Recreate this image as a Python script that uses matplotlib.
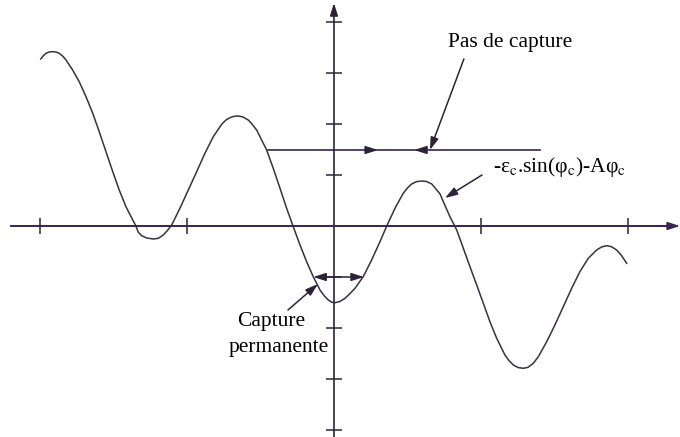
import matplotlib
matplotlib.use('Agg')
import matplotlib.pyplot as plt

plt.rcParams['font.family'] = ['Liberation Serif', 'DejaVu Serif']
plt.rcParams['mathtext.fontset'] = 'stix'

# curve (x in tick units, y in tick units)
phi = [-1.995, -1.977, -1.959, -1.937, -1.914, -1.891, -1.869, -1.846, -1.823, -1.778,
       -1.733, -1.687, -1.641, -1.597, -1.551, -1.505, -1.461, -1.415, -1.369, -1.347,
       -1.331, -1.308, -1.274, -1.229, -1.195, -1.161, -1.134, -1.104, -1.048, -0.991,
       -0.934, -0.878, -0.821, -0.764, -0.735, -0.707, -0.680, -0.651, -0.619, -0.583,
       -0.558, -0.526, -0.458, -0.413, -0.367, -0.322, -0.277, -0.231, -0.186, -0.141,
       -0.095, -0.068, -0.039, -0.014, 0.007, 0.041, 0.075, 0.109, 0.143, 0.199,
       0.256, 0.313, 0.359, 0.415, 0.471, 0.500, 0.529, 0.561, 0.597, 0.629,
       0.665, 0.694, 0.721, 0.744, 0.789, 0.835, 0.880, 0.925, 0.971, 1.016,
       1.061, 1.107, 1.163, 1.190, 1.220, 1.252, 1.288, 1.320, 1.356, 1.390,
       1.447, 1.503, 1.560, 1.617, 1.673, 1.730, 1.787, 1.820, 1.855, 1.888,
       1.923, 1.956, 1.991]
f_phi = [3.275, 3.339, 3.386, 3.412, 3.418, 3.412, 3.386, 3.333, 3.255, 3.059,
         2.829, 2.535, 2.210, 1.849, 1.457, 1.065, 0.706, 0.378, 0.118, 0.0,
         -0.124, -0.190, -0.235, -0.255, -0.241, -0.176, -0.092, 0.020, 0.347, 0.706,
         1.065, 1.425, 1.751, 1.994, 2.078, 2.124, 2.151, 2.157, 2.137, 2.078,
         2.000, 1.882, 1.490, 1.131, 0.739, 0.347, -0.014, -0.373, -0.700, -0.994,
         -1.255, -1.363, -1.451, -1.496, -1.504, -1.480, -1.418, -1.324, -1.222, -0.994,
         -0.667, -0.308, 0.0, 0.347, 0.641, 0.745, 0.824, 0.869, 0.882, 0.873,
         0.824, 0.725, 0.630, 0.476, 0.182, -0.078, -0.437, -0.798, -1.157, -1.516,
         -1.876, -2.202, -2.529, -2.637, -2.725, -2.775, -2.790, -2.771, -2.692, -2.563,
         -2.269, -1.941, -1.582, -1.222, -0.896, -0.633, -0.471, -0.412, -0.386, -0.406,
         -0.471, -0.578, -0.731]

x_ticks = [-2, -1, 1, 2]
y_ticks = [-4, -3, -2, -1, 1, 2, 3, 4]

capture_level = 1.49
capture_span = [-0.449, 1.401]
capture_marks = [0.30, 0.545]
perm_level = -1.0
perm_span = [-0.141, 0.204]

ink = '#2e2238'
axis_col = '#3b2350'

fig = plt.figure(figsize=(6.8, 4.37), dpi=100)
ax = fig.add_axes([0, 0, 1, 1])
ax.set_xlim(-2.272, 2.354)
ax.set_ylim(-4.137, 4.431)

for s in ['top', 'right']:
    ax.spines[s].set_visible(False)
ax.spines['left'].set_position(('data', 0))
ax.spines['bottom'].set_position(('data', 0))
ax.spines['bottom'].set_bounds(-2.197, 2.33)
ax.spines['left'].set_bounds(-4.137, 4.28)
ax.spines['bottom'].set_color(axis_col)
ax.spines['left'].set_color(ink)
ax.spines['bottom'].set_linewidth(1.4)
ax.spines['left'].set_linewidth(1.2)
ax.set_xticks(x_ticks)
ax.set_yticks(y_ticks)
ax.set_xticklabels([])
ax.set_yticklabels([])
ax.tick_params(direction='inout', length=11, width=1.1, colors=ink)

head = dict(arrowstyle='-|>,head_length=0.75,head_width=0.24', color=ink, lw=1.1,
            shrinkA=0, shrinkB=0)
# axis arrow heads
ax.annotate('', xy=(2.354, 0), xytext=(2.2, 0), arrowprops=dict(head, color=axis_col))
ax.annotate('', xy=(0, 4.37), xytext=(0, 4.2), arrowprops=head)

ax.plot(phi, f_phi, color='#3a3042', lw=1.1, solid_joinstyle='round')

# pas de capture
ax.plot(capture_span, [capture_level, capture_level], color=axis_col, lw=1.2)
ax.annotate('', xy=(capture_marks[0], capture_level), xytext=(capture_marks[0] - 0.05, capture_level),
            arrowprops=head)
ax.annotate('', xy=(capture_marks[1], capture_level), xytext=(capture_marks[1] + 0.05, capture_level),
            arrowprops=head)
ax.annotate('', xy=(0.653, capture_level), xytext=(0.884, 3.275), arrowprops=head)
ax.text(0.776, 3.59, 'Pas de capture', fontsize=15.5, ha='left', va='center', color='black')

# formula label
ax.annotate('', xy=(0.755, 0.549), xytext=(1.007, 1.0), arrowprops=head)
ax.text(1.082, 1.15, '-ε$_{\\mathrm{c}}$.sin(φ$_{\\mathrm{c}}$)-Aφ$_{\\mathrm{c}}$', fontsize=15.5,
        ha='left', va='center', color='black')

# capture permanente
ax.annotate('', xy=(perm_span[0], perm_level), xytext=(perm_span[1], perm_level),
            arrowprops=dict(head, arrowstyle='<|-|>,head_length=0.75,head_width=0.24'))
ax.annotate('', xy=(-0.109, -1.137), xytext=(-0.313, -1.647), arrowprops=head)
ax.text(-0.425, -1.88, 'Capture', fontsize=15.5, ha='center', va='center', color='black')
ax.text(-0.374, -2.39, 'permanente', fontsize=15.5, ha='center', va='center', color='black')

fig.savefig('out.png', dpi=100, facecolor='white')
